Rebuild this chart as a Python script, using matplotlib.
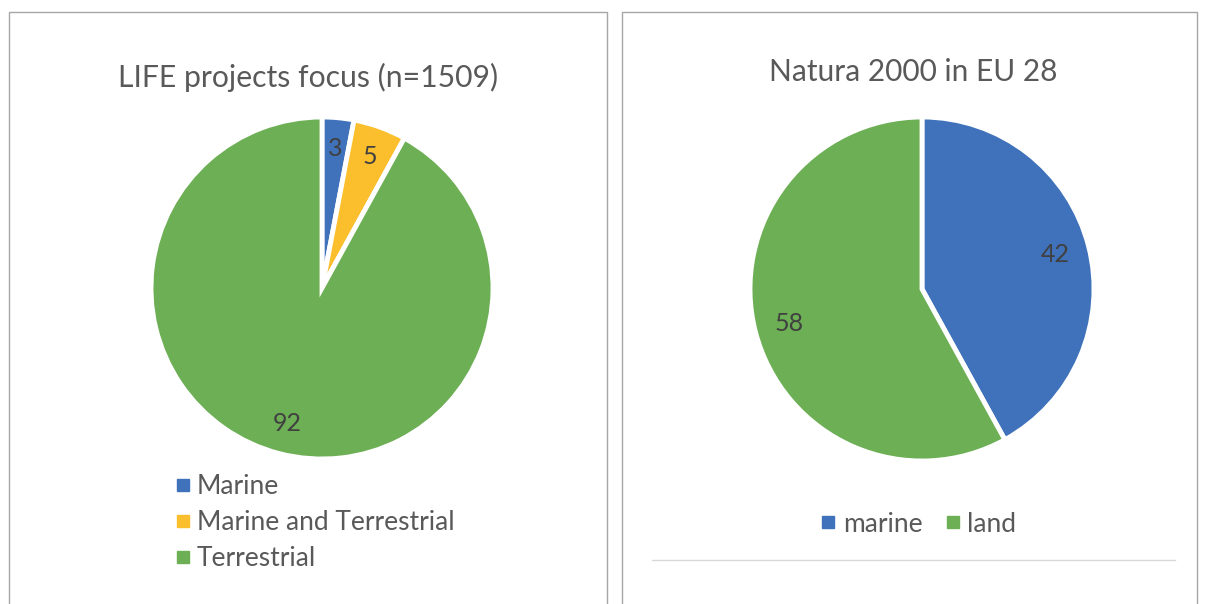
import matplotlib
matplotlib.use("Agg")
import matplotlib.pyplot as plt
from matplotlib.patches import Rectangle
from matplotlib.lines import Line2D

# ---- data ----
left_title = "LIFE projects focus (n=1509)"
left_labels = ["Marine", "Marine and Terrestrial", "Terrestrial"]
left_values = [3, 5, 92]
right_title = "Natura 2000 in EU 28"
right_labels = ["marine", "land"]
right_values = [42, 58]

BLUE = "#3F72BA"
ORANGE = "#FBBE2C"
GREEN = "#6DAF55"
left_colors = [BLUE, ORANGE, GREEN]
right_colors = [BLUE, GREEN]
TXT = "#595959"
FONT = ["Lato", "DejaVu Sans"]

W, H = 1209, 604
fig = plt.figure(figsize=(W / 100, H / 100), dpi=100)
fig.patch.set_facecolor("white")
plt.rcParams["font.family"] = FONT


def fx(x):
    return x / W


def fy(y):
    return 1 - y / H


# panel borders
for (x0, x1) in [(9, 607), (622, 1197)]:
    fig.add_artist(Rectangle((fx(x0), fy(H + 5)), fx(x1) - fx(x0), fy(12) - fy(H + 5),
                             transform=fig.transFigure, fill=False,
                             edgecolor="#A6A6A6", linewidth=1.0))
# separator line in right panel
fig.add_artist(Line2D([fx(652), fx(1175)], [fy(560), fy(560)], transform=fig.transFigure,
                      color="#D9D9D9", linewidth=1.0))


def pie_axes(cx, cy, r):
    ax = fig.add_axes([fx(cx - r), fy(cy + r), (2 * r) / W, (2 * r) / H])
    ax.set_xlim(-1, 1)
    ax.set_ylim(-1, 1)
    ax.set_aspect("equal")
    ax.axis("off")
    return ax


# left pie
axL = pie_axes(322, 288, 171)
axL.pie(left_values, colors=left_colors, startangle=90, counterclock=False, radius=1,
        wedgeprops=dict(edgecolor="white", linewidth=3.5),
        autopct=lambda p: f"{p:.0f}", pctdistance=0.82,
        textprops=dict(color="#404040", fontsize=18, family=FONT))
axL.set_xlim(-1, 1)
axL.set_ylim(-1, 1)
fig.text(fx(308), fy(77), left_title, ha="center", va="center", fontsize=21.7, color=TXT)

handlesL = [Line2D([], [], marker="s", linestyle="none", markersize=8,
                   markerfacecolor=c, markeredgecolor=c) for c in left_colors]
fig.legend(handlesL, left_labels, loc="upper left",
           bbox_to_anchor=(fx(176), fy(474)), frameon=False, fontsize=19,
           labelcolor=TXT, handletextpad=0.3, labelspacing=0.42, borderaxespad=0,
           borderpad=0, handlelength=0.5)

# right pie
axR = pie_axes(922, 289, 172)
axR.pie(right_values, colors=right_colors, startangle=90, counterclock=False, radius=1,
        wedgeprops=dict(edgecolor="white", linewidth=3.5),
        autopct=lambda p: f"{p:.0f}", pctdistance=0.8,
        textprops=dict(color="#404040", fontsize=18, family=FONT))
axR.set_xlim(-1, 1)
axR.set_ylim(-1, 1)
fig.text(fx(913), fy(72), right_title, ha="center", va="center", fontsize=21.5, color=TXT)

handlesR = [Line2D([], [], marker="s", linestyle="none", markersize=8,
                   markerfacecolor=c, markeredgecolor=c) for c in right_colors]
fig.legend(handlesR, right_labels, loc="center",
           bbox_to_anchor=(fx(919), fy(524)), frameon=False, fontsize=19, ncol=2,
           labelcolor=TXT, handletextpad=0.3, columnspacing=0.9, borderaxespad=0,
           borderpad=0, handlelength=0.5)

fig.savefig("out.png", dpi=100, facecolor="white")
